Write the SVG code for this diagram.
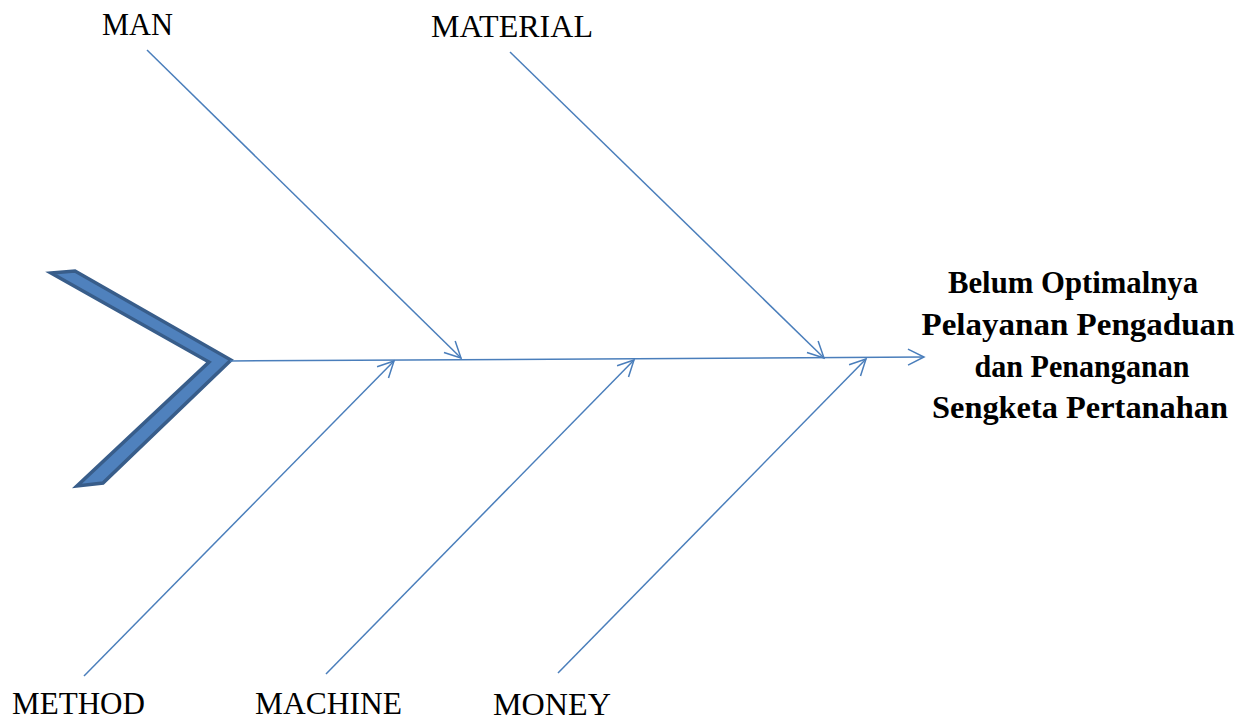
<svg xmlns="http://www.w3.org/2000/svg" width="1238" height="719" viewBox="0 0 1238 719">
<style>
.bone{stroke:#4a7ebb;stroke-width:1.5;fill:none;marker-end:url(#arr)}
.lbl{font-family:"Liberation Serif","Times New Roman",serif;font-size:31px;fill:#000}
.ttl{font-family:"Liberation Serif","Times New Roman",serif;font-size:32px;font-weight:bold;fill:#000;text-anchor:middle}
</style>
<defs>
<marker id="arr" viewBox="0 0 20 20" refX="18" refY="10" markerWidth="20" markerHeight="20" markerUnits="userSpaceOnUse" orient="auto">
<path d="M2,2 L18,10 L2,18" fill="none" stroke="#4a7ebb" stroke-width="1.5"/>
</marker>
</defs>
<rect width="1238" height="719" fill="#fff"/>
<g id="tail">
<polygon points="51,273 75,271 231,360 103,483 77,486 209,362" fill="#4f81bd" stroke="#385d8a" stroke-width="3.5" stroke-linejoin="miter"/>
</g>
<g id="connectors">
<line class="bone" x1="230" y1="361" x2="924" y2="357"/>
<line class="bone" x1="147" y1="50" x2="461" y2="358"/>
<line class="bone" x1="510" y1="52" x2="824" y2="358"/>
<line class="bone" x1="84" y1="676" x2="394" y2="361"/>
<line class="bone" x1="326" y1="674" x2="634" y2="360"/>
<line class="bone" x1="558" y1="673" x2="866" y2="359"/>
</g>
<g id="man"><text class="lbl" x="102" y="35" textLength="71" lengthAdjust="spacingAndGlyphs">MAN</text></g>
<g id="material"><text class="lbl" x="431" y="37" textLength="162" lengthAdjust="spacingAndGlyphs">MATERIAL</text></g>
<g id="method"><text class="lbl" x="12" y="714" textLength="133" lengthAdjust="spacingAndGlyphs">METHOD</text></g>
<g id="machine"><text class="lbl" x="255" y="714" textLength="147" lengthAdjust="spacingAndGlyphs">MACHINE</text></g>
<g id="money"><text class="lbl" x="493" y="715" textLength="118" lengthAdjust="spacingAndGlyphs">MONEY</text></g>
<g id="effect">
<text class="ttl" x="1073" y="293" textLength="250" lengthAdjust="spacingAndGlyphs">Belum Optimalnya</text>
<text class="ttl" x="1078" y="335" textLength="313" lengthAdjust="spacingAndGlyphs">Pelayanan Pengaduan</text>
<text class="ttl" x="1082" y="377" textLength="215" lengthAdjust="spacingAndGlyphs">dan Penanganan</text>
<text class="ttl" x="1080" y="418" textLength="296" lengthAdjust="spacingAndGlyphs">Sengketa Pertanahan</text>
</g>
</svg>
